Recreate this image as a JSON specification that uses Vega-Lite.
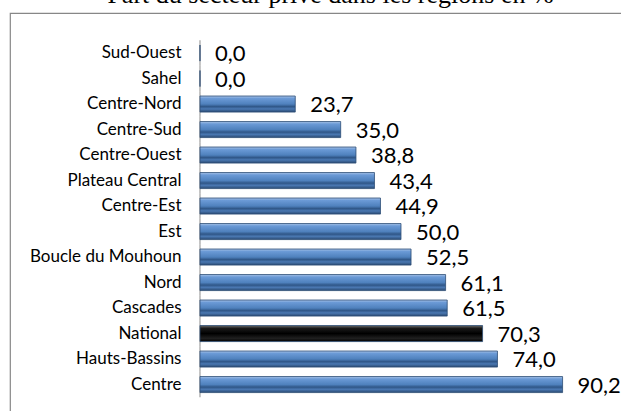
{
  "$schema": "https://vega.github.io/schema/vega-lite/v6.json",
  "autosize": {"type": "none"},
  "width": 611,
  "height": 398,
  "padding": {"left": 10, "top": 13, "right": 0, "bottom": 0},
  "background": "white",
  "title": {
    "text": "Part du secteur privé dans les régions en %",
    "font": "Liberation Serif",
    "fontSize": 26,
    "fontWeight": "normal",
    "color": "#000000",
    "anchor": "middle",
    "frame": "group",
    "baseline": "alphabetic",
    "offset": -15.8,
    "dx": 15
  },
  "config": {
    "view": {
      "strokeWidth": 1.2,
      "stroke": "#878787",
      "strokeDash": [611, 1009, 398]
    },
    "locale": {"number": {"decimal": ",", "thousands": " ", "grouping": [3], "currency": ["", " €"]}}
  },
  "data": {
    "values": [
      {"region": "Sud-Ouest", "value": 0.0},
      {"region": "Sahel", "value": 0.0},
      {"region": "Centre-Nord", "value": 23.7},
      {"region": "Centre-Sud", "value": 35.0},
      {"region": "Centre-Ouest", "value": 38.8},
      {"region": "Plateau Central", "value": 43.4},
      {"region": "Centre-Est", "value": 44.9},
      {"region": "Est", "value": 50.0},
      {"region": "Boucle du Mouhoun", "value": 52.5},
      {"region": "Nord", "value": 61.1},
      {"region": "Cascades", "value": 61.5},
      {"region": "National", "value": 70.3},
      {"region": "Hauts-Bassins", "value": 74.0},
      {"region": "Centre", "value": 90.2}
    ]
  },
  "encoding": {
    "y": {
      "field": "region",
      "type": "nominal",
      "sort": ["Sud-Ouest", "Sahel", "Centre-Nord", "Centre-Sud", "Centre-Ouest", "Plateau Central", "Centre-Est", "Est", "Boucle du Mouhoun", "Nord", "Cascades", "National", "Hauts-Bassins", "Centre"],
      "scale": {"paddingInner": 0.37, "paddingOuter": 0.989, "align": 0.635},
      "axis": {
        "title": null,
        "domain": false,
        "ticks": false,
        "labelPadding": 19,
        "offset": -190,
        "labelFont": "Lato",
        "labelFontSize": 17,
        "labelColor": "#000000"
      }
    }
  },
  "layer": [
    {
      "mark": {"type": "tick", "orient": "vertical", "size": 25.6, "thickness": 1, "color": "#8c8c8c", "opacity": 1},
      "encoding": {
        "x": {"datum": 0, "type": "quantitative", "scale": {"domain": [-47.26, 104.73], "nice": false}, "axis": null}
      }
    },
    {
      "mark": {"type": "bar", "stroke": "#2c4d75", "strokeWidth": 0.8},
      "encoding": {
        "x": {"field": "value", "type": "quantitative", "scale": {"domain": [-47.26, 104.73], "nice": false}, "axis": null},
        "color": {
          "condition": {
            "test": "datum.region === 'National'",
            "value": {
              "gradient": "linear", "x1": 0, "y1": 0, "x2": 0, "y2": 1,
              "stops": [
                {"offset": 0, "color": "#6a6a6a"},
                {"offset": 0.18, "color": "#1a1a1a"},
                {"offset": 0.5, "color": "#000000"},
                {"offset": 0.8, "color": "#202020"},
                {"offset": 1, "color": "#000000"}
              ]
            }
          },
          "value": {
            "gradient": "linear", "x1": 0, "y1": 0, "x2": 0, "y2": 1,
            "stops": [
              {"offset": 0, "color": "#a9c4e8"},
              {"offset": 0.15, "color": "#6b9ad6"},
              {"offset": 0.5, "color": "#4f81bd"},
              {"offset": 0.66, "color": "#2f5687"},
              {"offset": 0.8, "color": "#4a78b2"},
              {"offset": 1, "color": "#2a4a72"}
            ]
          }
        }
      }
    },
    {
      "mark": {"type": "text", "align": "left", "baseline": "middle", "dx": 15, "dy": 1, "font": "Lato", "fontSize": 22, "color": "#000000"},
      "encoding": {
        "x": {"field": "value", "type": "quantitative", "scale": {"domain": [-47.26, 104.73], "nice": false}, "axis": null},
        "text": {"field": "value", "type": "quantitative", "format": ".1f"}
      }
    }
  ]
}
